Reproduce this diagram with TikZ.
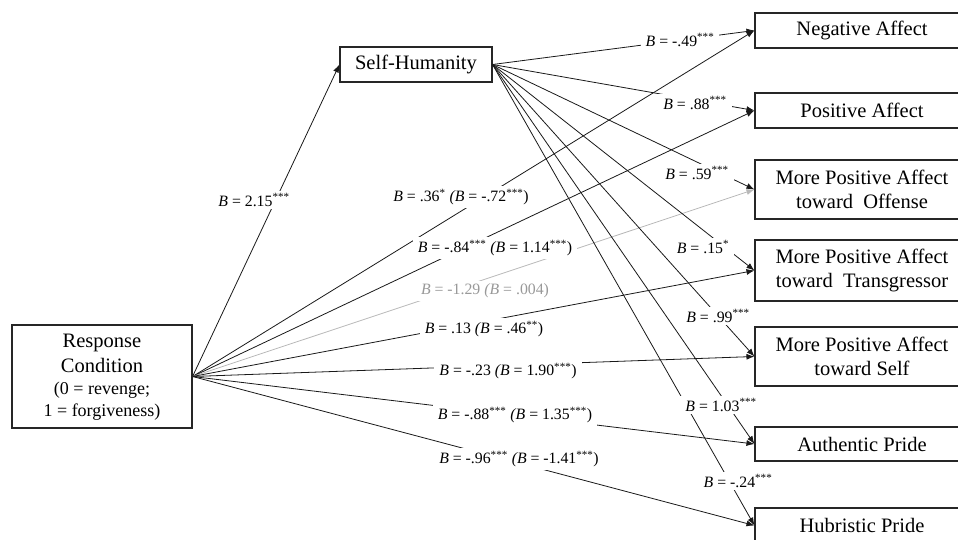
\documentclass[tikz,border=0pt]{standalone}
\usepackage{fontspec}
\setmainfont{Liberation Serif}
\usetikzlibrary{arrows.meta}
\begin{document}
\begin{tikzpicture}[x=1pt,y=-1pt,
  box/.style={draw=black!85, line width=1.1pt, align=center, inner sep=0pt, font=\fontsize{20.5}{24}\selectfont},
  outbox/.style={box, minimum width=214pt},
  lab/.style={fill=white, inner xsep=5pt, inner ysep=3pt, font=\fontsize{15.8}{18}\selectfont},
  conn/.style={draw=black!90, line width=0.8pt, -{Latex[length=8pt,width=6pt]}},
  grayconn/.style={conn, draw=black!28},
]
\useasboundingbox (0,0) rectangle (958,540);
% boxes
\node[box, minimum width=180pt, minimum height=103pt, text depth=3pt] (rc) at (102,376.5)
  {Response\\[1pt]Condition\\[-2pt]{\fontsize{18}{21}\selectfont (0 = revenge;}\\[-2pt]{\fontsize{18}{21}\selectfont 1 = forgiveness)}};
\node[box, minimum width=152pt, minimum height=35pt] (sh) at (416,64.5) {Self-Humanity};
\node[outbox, minimum height=35pt] (na) at (862,30.5) {Negative Affect};
\node[outbox, minimum height=35pt] (pa) at (862,110.5) {Positive Affect};
\node[outbox, minimum height=59pt] (off) at (862,189.5) {More Positive Affect\\toward\ \ Offense};
\node[outbox, minimum height=61pt] (tr) at (862,270.5) {More Positive Affect\\toward\ \ Transgressor};
\node[outbox, minimum height=59pt] (slf) at (862,356.5) {More Positive Affect\\toward Self};
\node[outbox, minimum height=34pt] (ap) at (862,444) {Authentic Pride};
\node[outbox, minimum height=35pt] (hp) at (862,525.5) {Hubristic Pride};
% connectors from response condition
\draw[conn] (rc.east) -- (sh.west);
\draw[conn] (rc.east) -- (na.west);
\draw[conn] (rc.east) -- (pa.west);
\draw[grayconn] (rc.east) -- (off.west);
\draw[conn] (rc.east) -- (tr.west);
\draw[conn] (rc.east) -- (slf.west);
\draw[conn] (rc.east) -- (ap.west);
\draw[conn] (rc.east) -- (hp.west);
% connectors from self-humanity
\draw[conn] (sh.east) -- (na.west);
\draw[conn] (sh.east) -- (pa.west);
\draw[conn] (sh.east) -- (off.west);
\draw[conn] (sh.east) -- (tr.west);
\draw[conn] (sh.east) -- (slf.west);
\draw[conn] (sh.east) -- (ap.west);
\draw[conn] (sh.east) -- (hp.west);
% labels
\node[lab] (l0) at (254,200) {\textit{B} = 2.15\textsuperscript{***}};
\node[lab] (l1) at (461,197) {\textit{B} = .36\textsuperscript{*} \textit{(B} = -.72\textsuperscript{***})};
\node[lab] (l2) at (495,248) {\textit{B} = -.84\textsuperscript{***} \textit{(B} = 1.14\textsuperscript{***})};
\node[lab, text=black!40] (l3) at (485,291) {\textit{B} = -1.29 \textit{(B} = .004)};
\node[lab] (l4) at (484,329) {\textit{B} = .13 \textit{(B} = .46\textsuperscript{**})};
\node[lab] (l5) at (508,371) {\textit{B} = -.23 \textit{(B} = 1.90\textsuperscript{***})};
\node[lab] (l6) at (515,415) {\textit{B} = -.88\textsuperscript{***} \textit{(B} = 1.35\textsuperscript{***})};
\node[lab] (l7) at (519,459) {\textit{B} = -.96\textsuperscript{***} \textit{(B} = -1.41\textsuperscript{***})};
\node[lab] (m1) at (680,40) {\textit{B} = -.49\textsuperscript{***}};
\node[lab] (m2) at (695,103) {\textit{B} = .88\textsuperscript{***}};
\node[lab] (m3) at (697,173) {\textit{B} = .59\textsuperscript{***}};
\node[lab] (m4) at (703,247) {\textit{B} = .15\textsuperscript{*}};
\node[lab] (m5) at (718,316) {\textit{B} = .99\textsuperscript{***}};
\node[lab] (m6) at (721,405) {\textit{B} = 1.03\textsuperscript{***}};
\node[lab] (m7) at (738,481) {\textit{B} = -.24\textsuperscript{***}};
\end{tikzpicture}
\end{document}
